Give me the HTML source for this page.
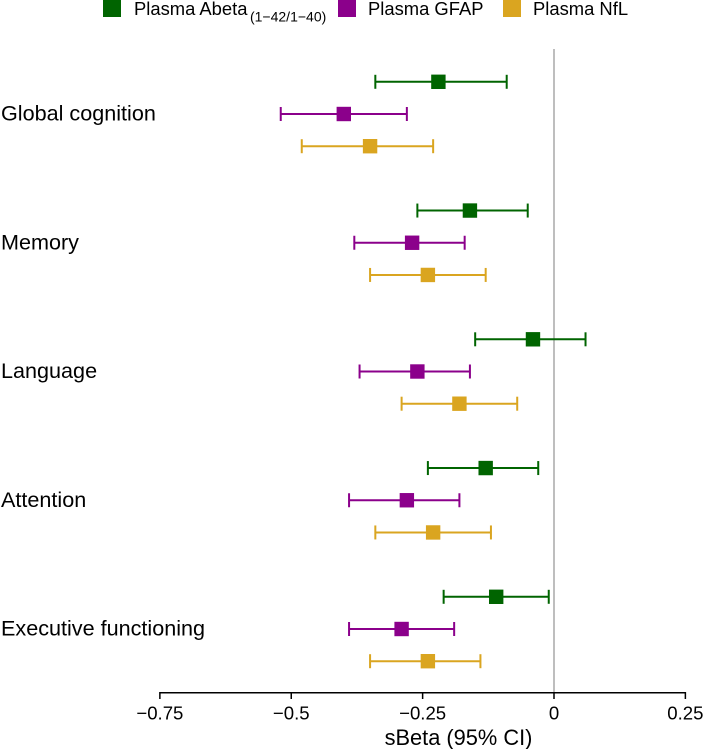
<!DOCTYPE html>
<html>
<head>
<meta charset="utf-8">
<style>
html,body{margin:0;padding:0;background:#fff;width:709px;height:749px;overflow:hidden}
svg{display:block;font-family:"Liberation Sans",sans-serif;fill:#000}
</style>
</head>
<body>
<svg id="chart" width="709" height="749" viewBox="0 0 709 749" xmlns="http://www.w3.org/2000/svg">
  <g id="legend">
    <rect x="103" y="-1" width="18" height="18" fill="#006400"/>
    <text x="134" y="15" font-size="18.4">Plasma Abeta<tspan font-size="14" dy="6.5" dx="2.5">(1−42/1−40)</tspan></text>
    <rect x="338" y="-1" width="18" height="18" fill="#8B008B"/>
    <text x="368" y="15" font-size="18.4">Plasma GFAP</text>
    <rect x="503" y="-1" width="18" height="18" fill="#DAA520"/>
    <text x="533" y="15" font-size="18.4">Plasma NfL</text>
  </g>
  <line id="zero-line" x1="554" x2="554" y1="49" y2="693" stroke="#a8a8a8" stroke-width="1.5"/>
  <g id="marks"></g>
  <g id="labels"></g>
  <g id="axis"></g>
  <text x="458.5" y="745" font-size="21.8" text-anchor="middle">sBeta (95% CI)</text>
</svg>
<script>
var categories = ["Global cognition", "Memory", "Language", "Attention", "Executive functioning"];
var seriesNames = ["abeta", "gfap", "nfl"];
var seriesColors = ["#006400", "#8B008B", "#DAA520"];
var abetaEst = [-0.22, -0.16, -0.04, -0.13, -0.11];
var abetaLow = [-0.34, -0.26, -0.15, -0.24, -0.21];
var abetaHigh = [-0.09, -0.05, 0.06, -0.03, -0.01];
var gfapEst = [-0.40, -0.27, -0.26, -0.28, -0.29];
var gfapLow = [-0.52, -0.38, -0.37, -0.39, -0.39];
var gfapHigh = [-0.28, -0.17, -0.16, -0.18, -0.19];
var nflEst = [-0.35, -0.24, -0.18, -0.23, -0.24];
var nflLow = [-0.48, -0.35, -0.29, -0.34, -0.35];
var nflHigh = [-0.23, -0.13, -0.07, -0.12, -0.14];
var tickValues = [-0.75, -0.5, -0.25, 0, 0.25];
var tickLabels = ["−0.75", "−0.5", "−0.25", "0", "0.25"];

var NS = "http://www.w3.org/2000/svg";
function xScale(v) { return 554 + v * 525.5; }
function yScale(i) { return 114 + i * 128.75; }
function seriesOffset(s) { return (s - 1) * 32.2; }
function make(tag, attrs, parent) {
  var el = document.createElementNS(NS, tag);
  for (var k in attrs) el.setAttribute(k, attrs[k]);
  parent.appendChild(el);
  return el;
}
var marks = document.getElementById("marks");
var labels = document.getElementById("labels");
var axis = document.getElementById("axis");
var ests = [abetaEst, gfapEst, nflEst];
var lows = [abetaLow, gfapLow, nflLow];
var highs = [abetaHigh, gfapHigh, nflHigh];

categories.forEach(function (cat, i) {
  var t = make("text", { x: 1, y: yScale(i) + 6.5, "font-size": 21.6 }, labels);
  
  
  t.textContent = cat;
  seriesNames.forEach(function (name, s) {
    var y = yScale(i) + seriesOffset(s);
    var c = seriesColors[s];
    var xl = xScale(lows[s][i]);
    var xh = xScale(highs[s][i]);
    var xe = xScale(ests[s][i]);
    var g = make("g", { stroke: c, "stroke-width": 2 }, marks);
    
    
    make("line", { x1: xl, x2: xh, y1: y, y2: y }, g);
    make("line", { x1: xl, x2: xl, y1: y - 7, y2: y + 7 }, g);
    make("line", { x1: xh, x2: xh, y1: y - 7, y2: y + 7 }, g);
    var r = make("rect", { x: xe - 7.2, y: y - 7.2, width: 14.4, height: 14.4, fill: c, stroke: "none" }, marks);
    
    
  });
});

var axisLine = make("line", { x1: xScale(tickValues[0]), x2: xScale(tickValues[4]), y1: 692.7, y2: 692.7, stroke: "#000", "stroke-width": 1.5 }, axis);


tickValues.forEach(function (v, i) {
  var x = xScale(v);
  var tk = make("line", { x1: x, x2: x, y1: 692, y2: 699, stroke: "#000", "stroke-width": 1.5 }, axis);
  
  
  var lb = make("text", { x: x, y: 719.5, "font-size": 18.6, "text-anchor": "middle" }, axis);
  
  
  lb.textContent = tickLabels[i];
});
</script>
</body>
</html>
